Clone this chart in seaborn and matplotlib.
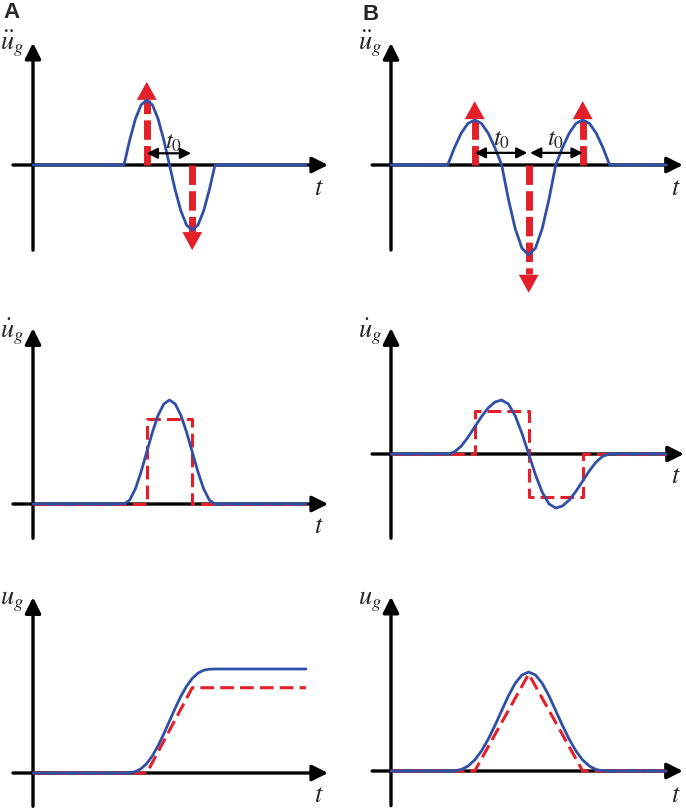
import numpy as np
import pandas as pd
import matplotlib
matplotlib.use("Agg")
import matplotlib.pyplot as plt
import seaborn as sns

# ---- data ----
# panel A: one sine period of ground acceleration, t in quarter-periods
tA_pulse = [4.0, 4.25, 4.5, 4.75, 5.0, 5.25, 5.5, 5.75, 6.0,
            6.25, 6.5, 6.75, 7.0, 7.25, 7.5, 7.75, 8.0]
tA = [0.0] + tA_pulse + [12.0]
accA = [0, 0, 0.383, 0.707, 0.924, 1.0, 0.924, 0.707, 0.383, 0,
        -0.383, -0.707, -0.924, -1.0, -0.924, -0.707, -0.383, 0, 0]
velA = [0, 0, 0.038, 0.146, 0.309, 0.5, 0.691, 0.854, 0.962, 1.0,
        0.962, 0.854, 0.691, 0.5, 0.309, 0.146, 0.038, 0, 0]
dispA = [0, 0, 0.002, 0.013, 0.041, 0.091, 0.166, 0.263, 0.377, 0.5,
         0.623, 0.738, 0.835, 0.909, 0.960, 0.988, 0.998, 1.0, 1.0]
# impulse approximation (red)
impA_t = [5.0, 7.0]
impA_h = [1.28, -1.31]
velA_red_t = [0, 5, 5, 7, 7, 12]
velA_red = [0, 0, 0.82, 0.82, 0, 0]
dispA_red_t = [0, 5, 7, 12]
dispA_red = [0, 0, 0.82, 0.82]

# panel B: three-lobe acceleration pulse
tB_pulse = [2.1, 2.35, 2.6, 2.85, 3.1, 3.35, 3.6, 3.85, 4.1,
            4.35, 4.6, 4.85, 5.1, 5.35, 5.6, 5.85, 6.1,
            6.35, 6.6, 6.85, 7.1, 7.35, 7.6, 7.85, 8.1]
tB = [0.0] + tB_pulse + [10.2]
accB = [0, 0, 0.383, 0.707, 0.924, 1.0, 0.924, 0.707, 0.383, 0,
        -0.765, -1.414, -1.848, -2.0, -1.848, -1.414, -0.765, 0,
        0.383, 0.707, 0.924, 1.0, 0.924, 0.707, 0.383, 0, 0]
velB = [0, 0, 0.038, 0.146, 0.309, 0.5, 0.691, 0.854, 0.962, 1.0,
        0.924, 0.707, 0.383, 0, -0.383, -0.707, -0.924, -1.0,
        -0.962, -0.854, -0.691, -0.5, -0.309, -0.146, -0.038, 0, 0]
dispB = [0, 0, 0.002, 0.015, 0.049, 0.111, 0.202, 0.321, 0.460, 0.611,
         0.760, 0.886, 0.970, 1.0, 0.970, 0.886, 0.760, 0.611,
         0.460, 0.321, 0.202, 0.111, 0.049, 0.015, 0.002, 0, 0]
impB_t = [3.1, 5.1, 7.1]
impB_h = [1.42, -2.84, 1.42]
velB_red_t = [0, 3.1, 3.1, 5.1, 5.1, 7.1, 7.1, 10.2]
velB_red = [0, 0, 0.8, 0.8, -0.8, -0.8, 0, 0]
dispB_red_t = [0, 3.1, 5.1, 7.1, 10.2]
dispB_red = [0, 0, 0.98, 0, 0]

BLUE = "#2f4fa8"
RED = "#e3202a"
W, H = 686, 808

sns.set_style("white")
plt.rcParams["mathtext.fontset"] = "stix"
plt.rcParams["font.family"] = ["Liberation Sans", "DejaVu Sans"]

fig = plt.figure(figsize=(W / 100, H / 100), dpi=100)


def make_axes(box, origin, scale):
    # box = (left, top, right, bottom) in px, origin px of (0,0), px per unit
    l, t, r, b = box
    ox, oy = origin
    sx, sy = scale
    ax = fig.add_axes([l / W, 1 - b / H, (r - l) / W, (b - t) / H])
    ax.set_xlim((l - ox) / sx, (r - ox) / sx)
    ax.set_ylim((oy - b) / sy, (oy - t) / sy)
    ax.axis("off")
    return ax


def draw_axes(ax, xr, yr):
    ap = dict(arrowstyle="-|>,head_length=0.8,head_width=0.4", color="black",
              lw=2.4, shrinkA=0, shrinkB=0, mutation_scale=12)
    ax.annotate("", xy=(xr[1], 0), xytext=(xr[0], 0), arrowprops=ap,
                annotation_clip=False, zorder=1)
    ax.annotate("", xy=(0, yr[1]), xytext=(0, yr[0]), arrowprops=ap,
                annotation_clip=False, zorder=1)


def blue_line(ax, t, v):
    sns.lineplot(x=t, y=v, ax=ax, color=BLUE, lw=2.0, estimator=None,
                 sort=False, zorder=4)


def red_line(ax, t, v):
    sns.lineplot(x=t, y=v, ax=ax, color=RED, lw=2.2, estimator=None,
                 sort=False, zorder=3)
    ax.lines[-1].set_dashes((4.5, 2.0))


def impulses(ax, ts, hs, head):
    for x, h in zip(ts, hs):
        base = h - np.sign(h) * head
        ln, = ax.plot([x, x], [0, base], color=RED, lw=5.0, zorder=2,
                      solid_capstyle="butt")
        ln.set_dashes((2.8, 0.9))
        ax.annotate("", xy=(x, h), xytext=(x, 0),
                    arrowprops=dict(arrowstyle="-|>,head_length=1.0,head_width=0.55",
                                    color=RED, lw=0, shrinkA=0, shrinkB=0,
                                    mutation_scale=13),
                    annotation_clip=False, zorder=2)


def t0_arrow(ax, x0, x1, y):
    ax.annotate("", xy=(x1, y), xytext=(x0, y),
                arrowprops=dict(arrowstyle="<|-|>,head_length=0.7,head_width=0.35",
                                color="black", lw=1.6, shrinkA=0, shrinkB=0,
                                mutation_scale=9),
                zorder=5)


def label(x, y, s, size=14, **kw):
    fig.text(x / W, 1 - y / H, s, ha="center", va="center", fontsize=size, **kw)


# ---- column A ----
ax = make_axes((0, 30, 340, 300), (33, 165), (22.75, 65))
draw_axes(ax, (-0.88, 12.97), (-1.31, 1.88))
impulses(ax, impA_t, impA_h, 0.28)
blue_line(ax, tA, accA)
t0_arrow(ax, 5.0, 6.95, 0.18)

ax = make_axes((0, 310, 340, 550), (33, 504), (22.75, 104))
draw_axes(ax, (-0.88, 12.97), (-0.33, 1.69))
red_line(ax, velA_red_t, velA_red)
blue_line(ax, tA, velA)

ax = make_axes((0, 580, 340, 808), (33, 773), (22.75, 104))
draw_axes(ax, (-0.88, 12.97), (-0.32, 1.69))
red_line(ax, dispA_red_t, dispA_red)
blue_line(ax, tA, dispA)

# ---- column B ----
ax = make_axes((343, 30, 686, 300), (391, 165), (27, 45))
draw_axes(ax, (-0.70, 10.81), (-1.89, 2.71))
impulses(ax, impB_t, impB_h, 0.42)
blue_line(ax, tB, accB)
t0_arrow(ax, 3.1, 5.05, 0.27)
t0_arrow(ax, 5.15, 7.1, 0.27)

ax = make_axes((343, 310, 686, 550), (391, 454), (27, 54))
draw_axes(ax, (-0.70, 10.85), (-1.56, 2.33))
red_line(ax, velB_red_t, velB_red)
blue_line(ax, tB, velB)

ax = make_axes((343, 580, 686, 808), (391, 771), (27, 99))
draw_axes(ax, (-0.70, 10.81), (-0.35, 1.76))
red_line(ax, dispB_red_t, dispB_red)
blue_line(ax, tB, dispB)

# ---- texts ----
label(11, 13, "A", size=16, fontweight="bold")
label(371, 15, "B", size=16, fontweight="bold")
for x in (12, 370):
    label(x, 44, r"$\ddot{u}_g$", size=19)
    label(x, 332, r"$\dot{u}_g$", size=19)
    label(x, 602, r"$u_g$", size=19)
for x in (319, 676):
    label(x, 188, r"$t$", size=19)
    label(x, 526 if x < 340 else 476, r"$t$", size=19)
    label(x, 795, r"$t$", size=19)
label(174, 142, r"$t_0$", size=18)
label(502, 139, r"$t_0$", size=18)
label(556, 139, r"$t_0$", size=18)

fig.savefig("out.png", dpi=100)
